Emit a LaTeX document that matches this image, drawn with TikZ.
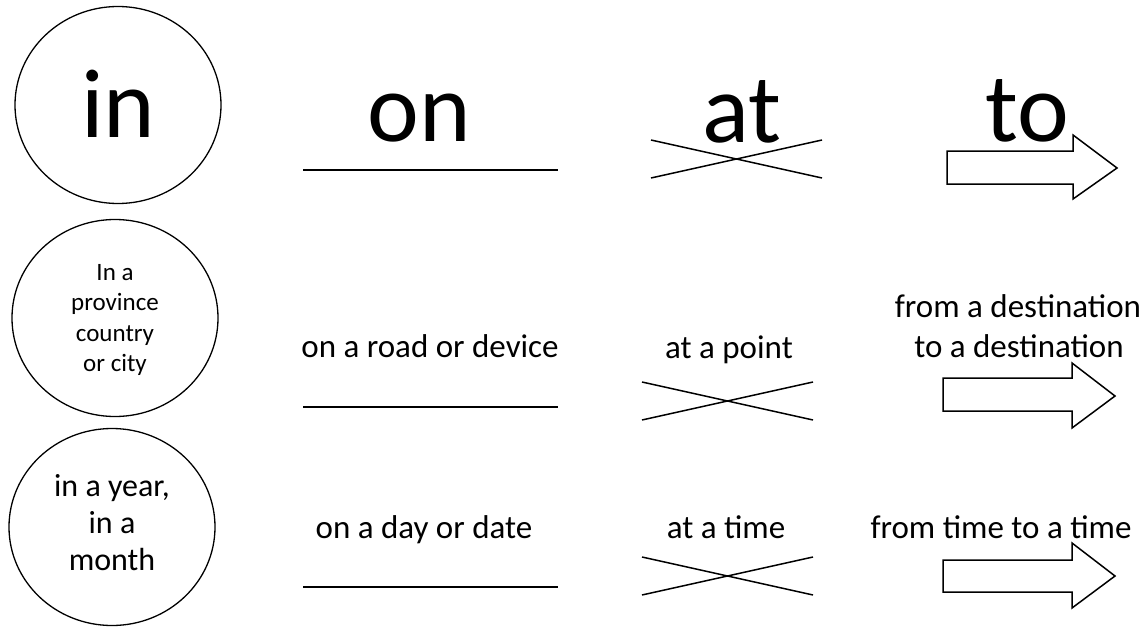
\documentclass[tikz,border=0pt]{standalone}
\usepackage{fontspec}
\setmainfont{Carlito}
\usetikzlibrary{shapes.geometric}
\begin{document}
\begin{tikzpicture}[x=1pt,y=-1pt,
  ring/.style={draw,ellipse,line width=1.3pt,inner sep=0pt,minimum width=206pt,minimum height=197pt},
  big/.style={anchor=base,inner sep=0pt,font=\fontsize{98}{110}\selectfont},
  lbl/.style={anchor=base,inner sep=0pt,font=\fontsize{33}{40}\selectfont},
  bar/.style={line width=1.8pt},
  xline/.style={line width=1.5pt},
  blockarrow/.style={draw,line width=1.5pt,line join=miter}]
\useasboundingbox (0,0) rectangle (1148,634);
% circles
\node[ring] (c1) at (118,105) {};
\node[ring] (c2) at (115,318) {};
\node[ring] (c3) at (112,527) {};
\node[big] (tin) at (118,137) {in};
\node[anchor=center,inner sep=0pt,align=center,font=\fontsize{25}{30.3}\selectfont] (t2) at (115,320) {In a\\province\\country\\or city};
\node[anchor=center,inner sep=0pt,align=center,font=\fontsize{32}{37}\selectfont] (t3) at (112,523) {in a year,\\in a\\month};
% on column
\node[big] (ton) at (419,141) {on};
\coordinate (on1a) at (303,170); \coordinate (on1b) at (558,170);
\draw[bar] (on1a) -- (on1b);
\node[lbl] (on2) at (430,357) {on a road or device};
\coordinate (on2a) at (303,407); \coordinate (on2b) at (558,407);
\draw[bar] (on2a) -- (on2b);
\node[lbl] (on3) at (424,538) {on a day or date};
\coordinate (on3a) at (303,587); \coordinate (on3b) at (558,587);
\draw[bar] (on3a) -- (on3b);
% at column
\node[big] (tat) at (742,142) {at};
\coordinate (x1a) at (651,140); \coordinate (x1b) at (822,178);
\coordinate (x1c) at (651,178); \coordinate (x1d) at (822,140);
\draw[xline] (x1a) -- (x1b) (x1c) -- (x1d);
\node[lbl] (at2) at (729,358) {at a point};
\coordinate (x2a) at (642,382); \coordinate (x2b) at (813,420);
\coordinate (x2c) at (642,420); \coordinate (x2d) at (813,382);
\draw[xline] (x2a) -- (x2b) (x2c) -- (x2d);
\node[lbl] (at3) at (726,538) {at a time};
\coordinate (x3a) at (642,557); \coordinate (x3b) at (813,595);
\coordinate (x3c) at (642,595); \coordinate (x3d) at (813,557);
\draw[xline] (x3a) -- (x3b) (x3c) -- (x3d);
% to column
\node[big] (tto) at (1027,141) {to};
\draw[blockarrow] (947,151) -- (1073,151) -- (1073,135) -- (1117,168) -- (1073,199) -- (1073,184) -- (947,184) -- cycle;
\node[lbl] (to2a) at (1018,317) {from a destination};
\node[lbl] (to2b) at (1019,357) {to a destination};
\draw[blockarrow] (943,378) -- (1072,378) -- (1072,363) -- (1115,396) -- (1072,428) -- (1072,411) -- (943,411) -- cycle;
\node[lbl] (to3) at (1001,538) {from time to a time};
\draw[blockarrow] (943,560) -- (1072,560) -- (1072,543) -- (1115,576) -- (1072,608) -- (1072,592) -- (943,592) -- cycle;
\end{tikzpicture}
\end{document}
